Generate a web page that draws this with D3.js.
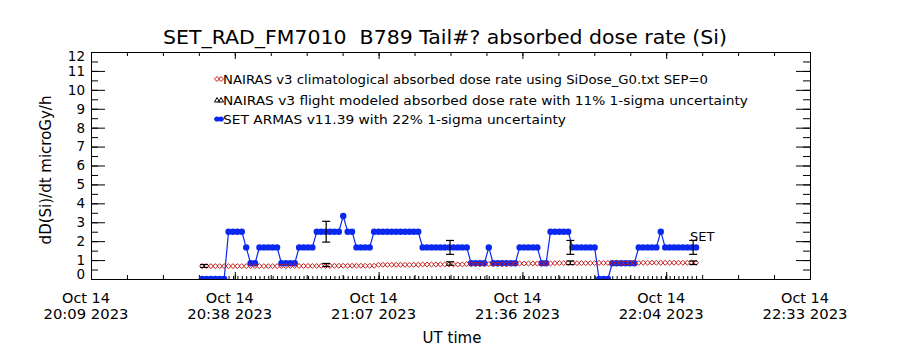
<!DOCTYPE html>
<html>
<head>
<meta charset="utf-8">
<script src="https://cdn.jsdelivr.net/npm/d3@7"></script>
<style>
  html, body { margin: 0; padding: 0; background: #fff; }
  svg text { font-family: "DejaVu Sans", sans-serif; fill: #000; white-space: pre; }
</style>
</head>
<body>
<svg id="chart" width="900" height="350"></svg>
<script>
// ---- data ---------------------------------------------------------------
const titleText = "SET_RAD_FM7010  B789 Tail#? absorbed dose rate (Si)";
const yTitle = "dD(Si)/dt microGy/h";
const xTitle = "UT time";

// time axis: start / end of the plotted window and labelled ticks
const axisStart = "2023-10-14T20:09:15Z";
const axisEnd   = "2023-10-14T22:33:15Z";
const xTickDates = ["Oct 14", "Oct 14", "Oct 14", "Oct 14", "Oct 14", "Oct 14"];
const xTickTimes = ["20:09 2023", "20:38 2023", "21:07 2023", "21:36 2023", "22:04 2023", "22:33 2023"];
const yTickLabels = ["0","1","2","3","4","5","6","7","8","9","10","11","12"];

// SET ARMAS record: first sample time and sampling cadence (seconds)
const armasStart = "2023-10-14T20:31:30Z";
const armasCadenceSec = 53;

// SET ARMAS absorbed dose rate (microGy/h)
const armasDose = [
  0, 0, 0, 0, 0, 0,
  2.5, 2.5, 2.5, 2.5,
  1.67,
  0.83, 0.83,
  1.67, 1.67, 1.67, 1.67, 1.67,
  0.83, 0.83, 0.83, 0.83,
  1.67, 1.67, 1.67, 1.67,
  2.5, 2.5, 2.5, 2.5, 2.5, 2.5,
  3.33,
  2.5, 2.5,
  1.67, 1.67, 1.67, 1.67,
  2.5, 2.5, 2.5, 2.5, 2.5, 2.5, 2.5, 2.5, 2.5, 2.5, 2.5,
  1.67, 1.67, 1.67, 1.67, 1.67, 1.67, 1.67, 1.67, 1.67, 1.67, 1.67,
  0.83, 0.83, 0.83, 0.83,
  1.67,
  0.83, 0.83, 0.83, 0.83, 0.83, 0.83,
  1.67, 1.67, 1.67, 1.67, 1.67,
  0.83, 0.83,
  2.5, 2.5, 2.5, 2.5, 2.5,
  1.67, 1.67, 1.67, 1.67, 1.67, 1.67,
  0, 0, 0,
  0.83, 0.83, 0.83, 0.83, 0.83, 0.83,
  1.67, 1.67, 1.67, 1.67, 1.67,
  2.5,
  1.67, 1.67, 1.67, 1.67, 1.67, 1.67, 1.67, 1.67
];

// NAIRAS v3 climatological dose rate at each ARMAS sample (microGy/h)
const nairasClim = [
  0.68, 0.68, 0.68, 0.68, 0.68, 0.68, 0.68, 0.68, 0.68, 0.68,
  0.68, 0.68, 0.68, 0.68, 0.68, 0.68, 0.68, 0.68, 0.68, 0.68,
  0.69, 0.69, 0.69, 0.69, 0.69, 0.69, 0.69, 0.69, 0.69, 0.69,
  0.70, 0.70, 0.70, 0.70, 0.70, 0.70, 0.70, 0.70, 0.70, 0.70,
  0.75, 0.75, 0.75, 0.75, 0.75, 0.75, 0.75, 0.75, 0.75, 0.75,
  0.77, 0.77, 0.77, 0.77, 0.77, 0.77, 0.77, 0.77, 0.77, 0.77,
  0.79, 0.79, 0.79, 0.79, 0.79, 0.79, 0.79, 0.79, 0.79, 0.79,
  0.82, 0.82, 0.82, 0.82, 0.82, 0.82, 0.82, 0.82, 0.82, 0.82,
  0.84, 0.84, 0.84, 0.84, 0.84, 0.84, 0.84, 0.84, 0.84, 0.84,
  0.85, 0.85, 0.85, 0.85, 0.85, 0.85, 0.85, 0.85, 0.85, 0.85,
  0.86, 0.86, 0.86, 0.86, 0.86, 0.86, 0.86, 0.86, 0.86, 0.86,
  0.86, 0.86, 0.86
];

// NAIRAS v3 flight-modeled points (11% 1-sigma) and matching ARMAS samples (22% 1-sigma)
const flightTimes = ["2023-10-14T20:31:54Z", "2023-10-14T20:56:21Z", "2023-10-14T21:21:09Z",
                     "2023-10-14T21:45:15Z", "2023-10-14T22:09:51Z"];
const flightDose  = [0.69, 0.74, 0.82, 0.86, 0.86];
const flightArmas = [0, 2.5, 1.67, 1.67, 1.67];
const nairasSigma = 0.11;
const armasSigma = 0.22;

const legendLabels = [
  "NAIRAS v3 climatological absorbed dose rate using SiDose_G0.txt SEP=0",
  "NAIRAS v3 flight modeled absorbed dose rate with 11% 1-sigma uncertainty",
  "SET ARMAS v11.39 with 22% 1-sigma uncertainty"
];
const seriesTag = "SET";

// ---- layout -------------------------------------------------------------
const plot = { left: 91, right: 810, top: 52, bottom: 279 };
const BLUE = "#0a28f0", RED = "#c81e1e", BLACK = "#000";

const svg = d3.select("#chart");
const x = d3.scaleTime()
  .domain([new Date(axisStart), new Date(axisEnd)])
  .range([plot.left, plot.right]);
const y = d3.scaleLinear().domain([0, 12]).range([plot.bottom, plot.top]);

const t0 = new Date(armasStart).getTime();
const armas = armasDose.map((v, i) => ({ t: new Date(t0 + i * armasCadenceSec * 1000), v }));
const clim = nairasClim.map((v, i) => ({ t: armas[i].t, v }));
const flight = flightTimes.map((s, i) => ({ t: new Date(s), v: flightDose[i], a: flightArmas[i] }));

svg.append("defs").append("clipPath").attr("id", "plotclip")
  .append("rect")
  .attr("x", plot.left).attr("y", plot.top)
  .attr("width", plot.right - plot.left).attr("height", plot.bottom - plot.top);

// ---- axes ---------------------------------------------------------------
const [dStart, dEnd] = x.domain();
const majorStep = (dEnd - dStart) / 5;
const xMajor = d3.range(6).map(i => new Date(dStart.getTime() + i * majorStep));
const xMinor = d3.range(21).map(i => new Date(dStart.getTime() + i * majorStep / 4));
const yMajor = d3.range(0, 13);
const yMinor = d3.range(0, 12.01, 0.5);

function styleAxis(g) {
  g.selectAll("path.domain").attr("stroke", BLACK).attr("stroke-width", 1);
  g.selectAll(".tick line").attr("stroke", BLACK).attr("stroke-width", 1);
  g.selectAll(".tick text").remove();
}

// bottom & top
svg.append("g").attr("transform", `translate(0,${plot.bottom})`)
  .call(d3.axisBottom(x).tickValues(xMinor).tickSize(-4).tickSizeOuter(0).tickFormat(""))
  .call(styleAxis);
svg.append("g").attr("transform", `translate(0,${plot.bottom})`)
  .call(d3.axisBottom(x).tickValues(xMajor).tickSize(-7).tickSizeOuter(0).tickFormat(""))
  .call(styleAxis);
svg.append("g").attr("transform", `translate(0,${plot.top})`)
  .call(d3.axisTop(x).tickValues(xMinor).tickSize(-4).tickSizeOuter(0).tickFormat(""))
  .call(styleAxis);
svg.append("g").attr("transform", `translate(0,${plot.top})`)
  .call(d3.axisTop(x).tickValues(xMajor).tickSize(-7).tickSizeOuter(0).tickFormat(""))
  .call(styleAxis);

// sample rug along the time axis
svg.append("g").attr("transform", `translate(0,${plot.bottom})`)
  .call(d3.axisBottom(x).tickValues(armas.map(d => d.t)).tickSize(-3).tickSizeOuter(0).tickFormat(""))
  .call(styleAxis);

// left & right
svg.append("g").attr("transform", `translate(${plot.left},0)`)
  .call(d3.axisLeft(y).tickValues(yMinor).tickSize(-7).tickSizeOuter(0).tickFormat(""))
  .call(styleAxis);
svg.append("g").attr("transform", `translate(${plot.left},0)`)
  .call(d3.axisLeft(y).tickValues(yMajor).tickSize(-14).tickSizeOuter(0).tickFormat(""))
  .call(styleAxis);
svg.append("g").attr("transform", `translate(${plot.right},0)`)
  .call(d3.axisRight(y).tickValues(yMinor).tickSize(-7).tickSizeOuter(0).tickFormat(""))
  .call(styleAxis);
svg.append("g").attr("transform", `translate(${plot.right},0)`)
  .call(d3.axisRight(y).tickValues(yMajor).tickSize(-14).tickSizeOuter(0).tickFormat(""))
  .call(styleAxis);

// y tick labels (kept inside the frame's vertical extent)
svg.append("g").selectAll("text").data(yMajor).join("text")
  .attr("x", plot.left - 6)
  .attr("y", d => Math.max(plot.top + 4, Math.min(plot.bottom - 5, y(d))))
  .attr("dy", "0.36em")
  .attr("text-anchor", "end")
  .attr("font-size", 13.5)
  .text((d, i) => yTickLabels[i]);

// x tick labels (two lines)
const xl = svg.append("g").selectAll("g").data(xMajor).join("g")
  .attr("transform", d => `translate(${x(d) - 5},0)`);
xl.append("text").attr("y", 303).attr("text-anchor", "middle").attr("font-size", 14)
  .attr("textLength", 48).attr("lengthAdjust", "spacingAndGlyphs")
  .text((d, i) => xTickDates[i]);
xl.append("text").attr("y", 319).attr("text-anchor", "middle").attr("font-size", 14)
  .attr("textLength", 85).attr("lengthAdjust", "spacingAndGlyphs")
  .text((d, i) => xTickTimes[i]);

// titles
svg.append("text").attr("x", 445).attr("y", 44).attr("text-anchor", "middle")
  .attr("font-size", 19).attr("textLength", 564).attr("lengthAdjust", "spacingAndGlyphs")
  .text(titleText);
svg.append("text").attr("x", 452).attr("y", 343).attr("text-anchor", "middle")
  .attr("font-size", 15).text(xTitle);
svg.append("text").attr("transform", "translate(51,170) rotate(-90)")
  .attr("text-anchor", "middle").attr("font-size", 15).text(yTitle);

// ---- series -------------------------------------------------------------
const layer = svg.append("g").attr("clip-path", "url(#plotclip)");

// SET ARMAS line + dots
layer.append("path").datum(armas)
  .attr("fill", "none").attr("stroke", BLUE).attr("stroke-width", 1.2)
  .attr("d", d3.line().x(d => x(d.t)).y(d => y(d.v)));
layer.append("g").selectAll("circle").data(armas).join("circle")
  .attr("cx", d => x(d.t)).attr("cy", d => y(d.v)).attr("r", 3.2)
  .attr("fill", BLUE);

// NAIRAS climatological diamonds
const diamond = "M-2.6,0L0,-2.4L2.6,0L0,2.4Z";
layer.append("g").selectAll("path").data(clim).join("path")
  .attr("transform", d => `translate(${x(d.t)},${y(d.v)})`)
  .attr("d", diamond).attr("fill", "none").attr("stroke", RED).attr("stroke-width", 1);

// error bars
function errBar(g, cx, lo, hi, cap) {
  g.append("line").attr("x1", cx).attr("x2", cx).attr("y1", y(lo)).attr("y2", y(hi));
  g.append("line").attr("x1", cx - cap).attr("x2", cx + cap).attr("y1", y(lo)).attr("y2", y(lo));
  g.append("line").attr("x1", cx - cap).attr("x2", cx + cap).attr("y1", y(hi)).attr("y2", y(hi));
}
const eb = layer.append("g").attr("stroke", BLACK).attr("stroke-width", 1.2);
flight.forEach(d => {
  const cx = x(d.t);
  errBar(eb, cx, d.v * (1 - nairasSigma), d.v * (1 + nairasSigma), 4);
  if (d.a > 0) errBar(eb, cx, d.a * (1 - armasSigma), d.a * (1 + armasSigma), 4);
});

// series tag at the end of the ARMAS trace
const last = armas[armas.length - 1];
svg.append("text").attr("x", x(last.t) - 6).attr("y", y(last.v) - 6)
  .attr("font-size", 13).text(seriesTag);

// ---- legend -------------------------------------------------------------
const lg = svg.append("g");
const rows = [79, 100, 119];
const legendWidths = [485, 525, 343];
// row 1: red diamonds
[217, 221].forEach(cx => lg.append("path").attr("transform", `translate(${cx},${rows[0]})`)
  .attr("d", diamond).attr("fill", "none").attr("stroke", RED));
// row 2: black triangles
[217, 221].forEach(cx => lg.append("path").attr("transform", `translate(${cx},${rows[1]})`)
  .attr("d", "M-2.5,2L0,-2.5L2.5,2Z").attr("fill", "none").attr("stroke", BLACK));
// row 3: blue line with dots
lg.append("line").attr("x1", 214).attr("x2", 224).attr("y1", rows[2]).attr("y2", rows[2])
  .attr("stroke", BLUE).attr("stroke-width", 1.2);
[217, 221].forEach(cx => lg.append("circle").attr("cx", cx).attr("cy", rows[2]).attr("r", 2.6).attr("fill", BLUE));
lg.selectAll("text.leg").data(legendLabels).join("text")
  .attr("class", "leg")
  .attr("x", 223).attr("y", (d, i) => rows[i] + 5)
  .attr("font-size", 13)
  .attr("textLength", (d, i) => legendWidths[i]).attr("lengthAdjust", "spacingAndGlyphs")
  .text(d => d);
</script>
</body>
</html>
